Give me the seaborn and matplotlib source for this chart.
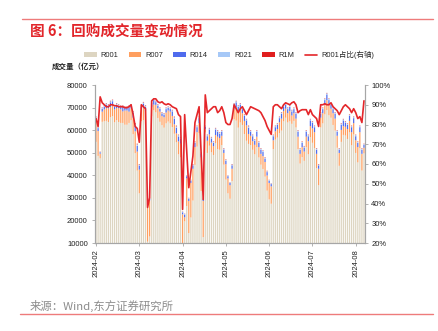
import numpy as np
import pandas as pd
import matplotlib
matplotlib.use("Agg")
import matplotlib.pyplot as plt
import seaborn as sns
from matplotlib.patches import Patch
from matplotlib.lines import Line2D

# Interbank trading calendar, 2024-02-01 .. 2024-08-09
holidays = ["2024-02-12", "2024-02-13", "2024-02-14", "2024-02-15", "2024-02-16",
            "2024-04-04", "2024-04-05", "2024-05-01", "2024-05-02", "2024-05-03",
            "2024-06-10"]
weekend_workdays = ["2024-02-04", "2024-02-18", "2024-04-07", "2024-04-28", "2024-05-11"]

# Repo turnover by tenor (100 million yuan)
r001 = [
    54800, 48600, 47500, 63700, 63900, 64100, 63600, 65700, 66200, 63500,
    64400, 63600, 63200, 63200, 62400, 62400, 63200, 64400, 58200, 49800,
    42100, 32000, 63900, 64500, 62500, 10600, 12900, 66200, 68800, 67900,
    65400, 63700, 62200, 61100, 63000, 63800, 63000, 61400, 58400, 54600,
    49300, 47900, 8900, 19600, 26400, 14400, 21300, 28800, 44600, 52700,
    58700, 33000, 12600, 58900, 49900, 53100, 50200, 49000, 54300, 51600,
    51300, 53400, 44700, 38100, 32000, 29600, 37400, 64800, 64200, 61100,
    63400, 62300, 58300, 55300, 53900, 53400, 51300, 49300, 52500, 47900,
    44700, 42800, 39400, 33200, 29300, 27400, 51600, 55800, 56700, 58700,
    59800, 63900, 65500, 63400, 63900, 62800, 64100, 61200, 51600, 45200,
    48100, 46400, 52500, 49300, 56900, 54400, 52100, 43200, 35600, 61200,
    63000, 67000, 68900, 66600, 65500, 62300, 59800, 52200, 44200, 54800,
    57900, 57600, 56100, 59000, 53300, 58100, 49900, 45700, 52100, 42100,
    49700]
r007 = [
    9000, 11000, 2100, 4500, 5300, 5700, 6100, 4600, 4600, 5700,
    5400, 6100, 6000, 5100, 6300, 6300, 5000, 5300, 7300, 9700,
    8400, 10500, 5300, 5300, 6000, 16200, 15900, 4000, 2500, 3300,
    4300, 4500, 4000, 4600, 4800, 4900, 5200, 4900, 4200, 4000,
    5700, 6100, 13800, 1800, 12200, 14200, 15300, 14100, 7900, 6400,
    4400, 14900, 16000, 1500, 5400, 5000, 4300, 3900, 3500, 5500,
    5200, 4100, 5200, 6800, 6600, 6000, 5500, 4700, 5900, 7400,
    6100, 5200, 5800, 6800, 4400, 4100, 3800, 4200, 4600, 4600,
    4800, 5700, 6500, 6700, 7300, 7700, 3900, 3700, 3800, 4800,
    5300, 4600, 4000, 4100, 4600, 3700, 3400, 3900, 5500, 4300,
    4400, 4100, 4600, 5800, 4900, 6400, 7000, 6300, 7300, 4300,
    4500, 4100, 4400, 4500, 4000, 5200, 5300, 5300, 5700, 5300,
    3900, 3900, 4400, 5100, 5800, 5000, 5600, 6800, 7000, 7400,
    2500]
r014 = [
    1500, 1300, 600, 1200, 1200, 1500, 1200, 2000, 2000, 1200,
    1500, 1200, 1200, 2000, 1200, 1200, 2000, 1200, 2200, 2500,
    2500, 1800, 1200, 2000, 1800, 800, 800, 1200, 2000, 1200,
    1200, 1200, 1200, 1200, 1500, 1200, 1200, 2000, 2500, 2500,
    2200, 2200, 900, 1200, 1000, 1000, 1000, 1500, 1800, 2200,
    2200, 1500, 1000, 1200, 2000, 2200, 1800, 1500, 2500, 2200,
    1800, 1800, 1500, 1500, 1000, 1000, 1500, 1800, 2200, 1800,
    1800, 1800, 2200, 2200, 2800, 1800, 2200, 1800, 2200, 1800,
    1800, 1800, 1500, 1500, 1000, 1000, 1800, 1800, 1800, 1800,
    2200, 1800, 1800, 1800, 1800, 1800, 1800, 2200, 2200, 1800,
    1800, 1800, 2200, 2200, 2500, 2500, 2200, 1800, 1500, 1800,
    1800, 2200, 2500, 2200, 1800, 1800, 2200, 1800, 1500, 2200,
    2500, 1800, 1800, 2200, 2200, 2200, 1800, 1800, 2200, 1800,
    1200]
r021 = [
    500, 400, 200, 400, 400, 500, 400, 500, 500, 400,
    500, 400, 400, 500, 400, 400, 600, 400, 600, 700,
    700, 500, 400, 500, 500, 300, 300, 400, 500, 400,
    400, 400, 400, 400, 500, 400, 400, 500, 600, 600,
    600, 600, 300, 300, 300, 300, 300, 400, 500, 500,
    500, 400, 300, 300, 500, 500, 500, 400, 500, 500,
    500, 500, 400, 400, 300, 300, 400, 500, 500, 500,
    500, 500, 500, 500, 600, 500, 500, 500, 500, 500,
    500, 500, 400, 400, 300, 300, 500, 500, 500, 500,
    500, 500, 500, 500, 500, 500, 500, 500, 500, 500,
    500, 500, 500, 500, 500, 500, 500, 500, 400, 500,
    500, 500, 500, 500, 500, 500, 500, 500, 400, 500,
    500, 500, 500, 500, 500, 500, 500, 500, 500, 500,
    400]
r1m = [
    200, 200, 100, 200, 200, 200, 200, 200, 200, 200,
    200, 200, 200, 200, 200, 200, 200, 200, 200, 300,
    300, 200, 200, 200, 200, 100, 100, 200, 200, 200,
    200, 200, 200, 200, 200, 200, 200, 200, 300, 300,
    200, 200, 100, 100, 100, 100, 100, 200, 200, 200,
    200, 200, 100, 100, 200, 200, 200, 200, 200, 200,
    200, 200, 200, 200, 100, 100, 200, 200, 200, 200,
    200, 200, 200, 200, 300, 200, 200, 200, 200, 200,
    200, 200, 200, 200, 100, 100, 200, 200, 200, 200,
    200, 200, 200, 200, 200, 200, 200, 200, 200, 200,
    200, 200, 200, 200, 200, 200, 200, 200, 200, 200,
    200, 200, 200, 200, 200, 200, 200, 200, 200, 200,
    200, 200, 200, 200, 200, 200, 200, 200, 200, 200,
    200]
# R001 share of total turnover (%), right axis
r001_share = [
    83, 79, 94, 91, 90, 89, 89, 90, 90, 89.5,
    89.5, 89, 89, 89, 88.5, 88.5, 89, 90, 85, 79,
    78, 71, 90, 89, 88, 38, 43, 92, 93, 93,
    91.5, 91, 91.5, 90.5, 90, 90.5, 90, 89, 88.5, 88,
    85, 84, 37, 85, 66, 48, 56, 64, 81, 85,
    89, 66, 42, 95, 86, 87, 88, 89, 89, 86,
    87, 89, 86, 81, 80, 80, 83, 90, 88, 86,
    88, 89, 87, 85, 87, 89, 88.5, 88, 87.5, 87,
    86, 84, 82, 79, 77, 75, 89, 90, 90, 89,
    88, 90, 91, 90.5, 90, 91, 91.5, 90, 86, 87,
    87.5, 87.5, 87.5, 85, 87.5, 85, 84, 83, 79, 90,
    90, 90.5, 90, 90, 91, 89, 88, 87, 85, 87,
    89, 90, 89, 88, 86, 88, 86, 83, 84, 81,
    92]

series_names = ["R001", "R007", "R014", "R021", "R1M"]
series_colors = ["#DDD5C1", "#FF9F5F", "#4F6BED", "#A6C8F7", "#E01E1E"]
line_color = "#E4262A"
axis_gray = "#A6A6A6"
tick_fs = 5.5
cjk_first = ["Noto Sans CJK SC", "Liberation Sans"]
latin_first = ["Liberation Sans", "Noto Sans CJK SC"]

dates = pd.bdate_range("2024-02-01", "2024-08-09", freq="C", holidays=holidays)
dates = dates.union(pd.to_datetime(weekend_workdays))
pos = np.arange(len(dates))

# long table for the stacked bars
long_df = pd.concat(
    [pd.DataFrame({"pos": pos, "value": vals, "tenor": name})
     for name, vals in zip(series_names, [r001, r007, r014, r021, r1m])],
    ignore_index=True)

sns.set_style("white")
plt.rcParams["font.family"] = latin_first
plt.rcParams["axes.unicode_minus"] = False

fig = plt.figure(figsize=(4.38, 3.31), dpi=100)
ax = fig.add_axes([95 / 438, 1 - 243 / 331, (365 - 95) / 438, (243 - 85) / 331])

# seaborn stacks the last hue level at the bottom
sns.histplot(data=long_df, x="pos", weights="value", hue="tenor",
             hue_order=series_names[::-1],
             palette=dict(zip(series_names, series_colors)),
             multiple="stack", discrete=True, shrink=0.6, element="bars",
             fill=True, alpha=1, linewidth=0, edgecolor="none",
             legend=False, ax=ax)
# thin bars: keep sub-pixel widths instead of snapping to whole pixels
for bar in ax.patches:
    bar.set_snap(False)

ax.set_xlim(-0.5, len(pos) - 0.5)
ax.set_ylim(10000, 80000)
ax.set_yticks(range(10000, 80001, 10000))
ax.set_yticklabels([str(v) for v in range(10000, 80001, 10000)])
tick_idx = pos[::21]
ax.set_xticks(tick_idx)
ax.set_xticklabels([dates[i].strftime("%Y-%m") for i in tick_idx], rotation=90)
ax.set_xlabel("")
ax.set_ylabel("")

ax2 = ax.twinx()
sns.lineplot(x=pos, y=r001_share, color=line_color, linewidth=1.2, ax=ax2)
ax2.set_ylim(20, 100)
ax2.set_yticks(range(20, 101, 10))
ax2.set_yticklabels([f"{v}%" for v in range(20, 101, 10)])
ax2.set_xlim(-0.5, len(pos) - 0.5)
ax2.set_ylabel("")

for a in (ax, ax2):
    a.spines["top"].set_visible(False)
    for s in ("left", "right", "bottom"):
        a.spines[s].set_color(axis_gray)
        a.spines[s].set_linewidth(0.8)
    a.tick_params(axis="both", labelsize=tick_fs, length=2, width=0.6,
                  color=axis_gray, pad=3, labelcolor="#222222")
ax.tick_params(axis="y", left=True, right=False, pad=3.2)
ax.tick_params(axis="x", bottom=True, pad=2.5)
ax2.tick_params(axis="y", right=True, pad=2.5)

# header, legend and footer
fig.add_artist(Line2D([22 / 438, 433 / 438], [1 - 19 / 331] * 2,
                      color="#EE7B7B", lw=1.0))
fig.add_artist(Line2D([20 / 438, 433 / 438], [1 - 314 / 331] * 2,
                      color="#EE7B7B", lw=1.0))
fig.text(30 / 438, 1 - 32 / 331, "图 6：回购成交量变动情况", color="#E2262B",
         fontsize=10.5, fontweight="bold", va="center", ha="left", family=cjk_first)
fig.text(52 / 438, 1 - 66 / 331, "成交量（亿元）", color="#222222",
         fontsize=5.4, fontweight="bold", va="center", ha="left", family=cjk_first)
fig.text(30 / 438, 1 - 306 / 331, "来源：Wind,东方证券研究所", color="#8C8C8C",
         fontsize=8.2, va="center", ha="left", family=cjk_first)

handles = [Patch(facecolor=c, edgecolor="none") for c in series_colors]
handles.append(Line2D([0], [0], color=line_color, lw=1.2))
labels = series_names + ["R001占比(右轴)"]
fig.legend(handles, labels, loc="center", bbox_to_anchor=(229 / 438, 1 - 55 / 331),
           ncol=6, frameon=False, handlelength=1.7, handleheight=0.55,
           columnspacing=1.35, handletextpad=0.5,
           prop={"family": latin_first, "size": 5.4})

fig.savefig("out.png", dpi=100, facecolor="white")
